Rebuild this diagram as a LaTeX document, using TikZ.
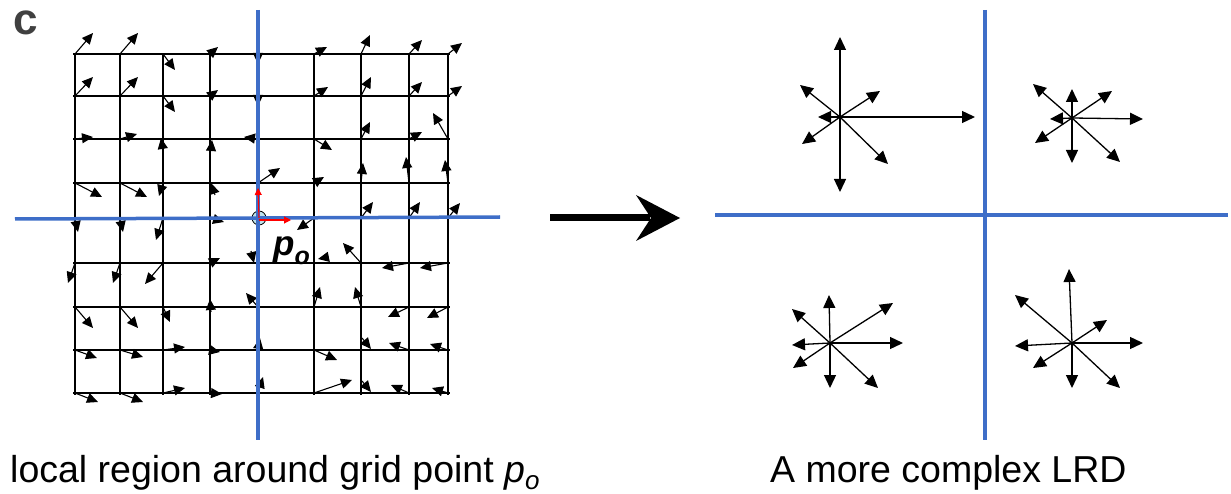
\documentclass[tikz,border=0pt]{standalone}
\usepackage{fontspec}
\setmainfont{Liberation Sans}
\usetikzlibrary{arrows.meta}
\definecolor{axisblue}{RGB}{62,110,200}
\definecolor{lblgray}{RGB}{64,64,64}
\definecolor{circfill}{RGB}{190,225,235}
\begin{document}
\begin{tikzpicture}[x=1pt,y=-1pt,
  gridline/.style={line width=1.2pt,black},
  vec/.style={line width=1.1pt,-{Triangle[length=11pt,width=10pt]}},
  starvec/.style={line width=1.3pt,-{Triangle[length=13pt,width=12pt]}},
  axisline/.style={line width=3.5pt,axisblue},
  redvec/.style={line width=1.1pt,red,-{Triangle[length=7pt,width=7pt]}},
  captext/.style={anchor=base west,inner sep=0pt,font=\fontsize{37.5}{40}\selectfont}]
\useasboundingbox (0,0) rectangle (1231,494);
% grid
\foreach \y in {54,96,139,183,218,263,307,350,393} \draw[gridline] (73,\y) -- (450,\y);
\foreach \x in {75,120,163,210,258,314,361,409,448} \draw[gridline] (\x,54) -- (\x,395);
% vector field
\foreach \x/\y/\dx/\dy in {
 75/54/18/-21, 120/54/18/-21, 163/54/12/16, 210/54/8/-7, 258/54/0/10, 314/54/13/-7, 361/54/9/-19, 409/54/13/-14, 448/54/14/-11,
 75/96/18/-19, 120/96/18/-19, 163/96/12/16, 210/96/8/-6, 258/96/0/10, 314/96/14/-9, 361/96/10/-19, 409/96/13/-14, 448/96/14/-10,
 75/139/18/-2, 120/139/17/-5, 163/150/-2/-12, 211/151/1/-11, 258/139/-14/-2, 314/139/18/11, 361/139/9/-17, 409/139/13/-7, 448/139/-15/-26,
 75/183/27/14, 120/183/27/14, 163/183/-4/13, 215/195/-4/-12, 258/183/22/-15, 314/183/10/-6, 361/183/2/-20, 409/183/-3/-26, 448/183/-3/-23,
 75/218/3/14, 120/218/3/14, 163/218/-7/22, 210/218/14/4, 314/218/-17/12, 361/218/12/-16, 409/218/11/-16, 448/218/12/-15,
 75/263/-7/20, 120/263/-7/20, 163/263/-18/21, 210/263/10/-5, 251/251/3/12, 328/257/-10/2, 361/263/-18/-20, 409/263/-27/5, 448/263/-28/5,
 75/307/18/21, 120/307/18/21, 163/307/7/15, 211/312/-1/-13, 258/307/-12/-14, 314/307/6/-20, 361/307/-6/-20, 409/307/-21/10, 448/307/-21/11,
 75/350/22/8, 120/350/23/7, 163/350/22/-3, 210/350/10/2, 258/350/2/-12, 314/350/23/10, 362/338/9/11, 409/350/-20/-7, 448/350/-18/-6,
 75/393/23/9, 120/393/23/9, 163/393/22/-5, 210/393/12/1, 258/393/5/-16, 314/393/38/-13, 362/381/9/11, 409/393/-18/-8, 448/393/-16/-5}
 \draw[vec] (\x,\y) -- ++(\dx,\dy);
% centre marker
\coordinate (po) at (259,218);
\draw[line width=0.8pt,fill=circfill] (po) circle (7);
% axes left
\draw[axisline] (15,219) -- (500,217);
\draw[axisline] (258,10) -- (258,440);
% red basis vectors
\coordinate (redup) at (258,188);
\coordinate (redright) at (291,220);
\draw[redvec] (po) -- (redup);
\draw[redvec] (259,220) -- (redright);
% labels
\node[anchor=base west,inner sep=0pt,text=lblgray,font=\bfseries\fontsize{44}{44}\selectfont] (lblc) at (13,35) {c};
\node[anchor=base west,inner sep=0pt,font=\bfseries\itshape\fontsize{35}{35}\selectfont] (polbl) at (273,256) {p\raisebox{-9pt}{\fontsize{25}{25}\selectfont o}};
% big arrow
\coordinate (ba) at (550,218);
\coordinate (bb) at (680,218);
\draw[line width=7pt] (ba) -- (650,218);
\fill (bb) -- (636,195) -- (651,218) -- (636,241) -- cycle;
% axes right
\draw[axisline] (715,215) -- (1228,215);
\draw[axisline] (985,10) -- (985,440);
% star clusters
\coordinate (s1) at (840,117);
\foreach \p in {(840,37),(840,192),(975,117),(818,117),(800,85),(880,91),(802,144),(888,164)}
  \draw[starvec] (s1) -- \p;
\coordinate (s2) at (1072,118);
\foreach \p in {(1072,89),(1072,163),(1143,119),(1050,119),(1033,84),(1112,91),(1035,143),(1120,162)}
  \draw[starvec] (s2) -- \p;
\coordinate (s3) at (830,343);
\foreach \p in {(829,295),(830,388),(903,343),(792,345),(792,309),(893,303),(793,368),(878,388)}
  \draw[starvec] (s3) -- \p;
\coordinate (s4) at (1072,343);
\foreach \p in {(1069,269),(1072,388),(1143,343),(1015,346),(1015,295),(1107,320),(1033,368),(1120,388)}
  \draw[starvec] (s4) -- \p;
% captions
\node[captext] (cap1) at (10,482) {local region around grid point \textit{p}\raisebox{-7pt}{\fontsize{26}{26}\selectfont\itshape o}};
\node[captext] (cap2) at (770,482) {A more complex LRD};
\end{tikzpicture}
\end{document}
